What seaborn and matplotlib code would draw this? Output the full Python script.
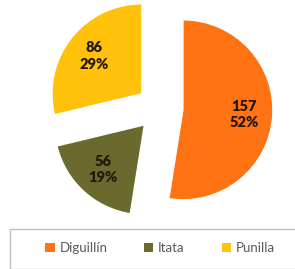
import matplotlib
matplotlib.use("Agg")
import matplotlib.pyplot as plt
import matplotlib.patches as mpatches
import seaborn as sns

categories = ["Diguillín", "Itata", "Punilla"]
values = [157, 56, 86]
percents = ["52%", "19%", "29%"]
colors = ["#FF7312", "#6A6A2E", "#FFC10A"]

sns.set_theme(style="white")
plt.rcParams['font.family'] = ['Lato', 'DejaVu Sans']

W, H = 295, 269
fig = plt.figure(figsize=(W / 100, H / 100), dpi=100)
ax = fig.add_axes([0, 0, 1, 1])
ax.set_xlim(0, W)
ax.set_ylim(0, H)
ax.axis("off")

labels_txt = [f"{v}\n{p}" for v, p in zip(values, percents)]
idx = {"i": 0}

def fmt(pct):
    s = labels_txt[idx["i"]]
    idx["i"] += 1
    return s

wedges, texts, autotexts = ax.pie(
    values, colors=colors, startangle=90, counterclock=False,
    explode=[23, 23, 23], radius=90, center=(160, H - 108),
    autopct=fmt, pctdistance=0.68, frame=True,
    textprops=dict(fontsize=10.5, fontweight="heavy", color="#24170f",
                   linespacing=1.3, ha="center", va="center"),
)
ax.set_xlim(0, W)
ax.set_ylim(0, H)
ax.set_aspect("equal")
ax.axis("off")

# legend box
rect = mpatches.Rectangle((10 / W, 0), 300 / W, (H - 229) / H,
                          transform=fig.transFigure, fill=False,
                          edgecolor="#bfbfbf", linewidth=1.0)
fig.patches.append(rect)

handles = [mpatches.Patch(facecolor=c, edgecolor="none") for c in colors]
fig.legend(handles, categories, ncol=3, frameon=False,
           loc="center", bbox_to_anchor=(160 / W, 1 - 248 / H),
           fontsize=9.5, handlelength=0.7, handleheight=0.7,
           handletextpad=0.35, columnspacing=2.8,
           labelcolor="#595959")

fig.savefig("out.png", dpi=100)
